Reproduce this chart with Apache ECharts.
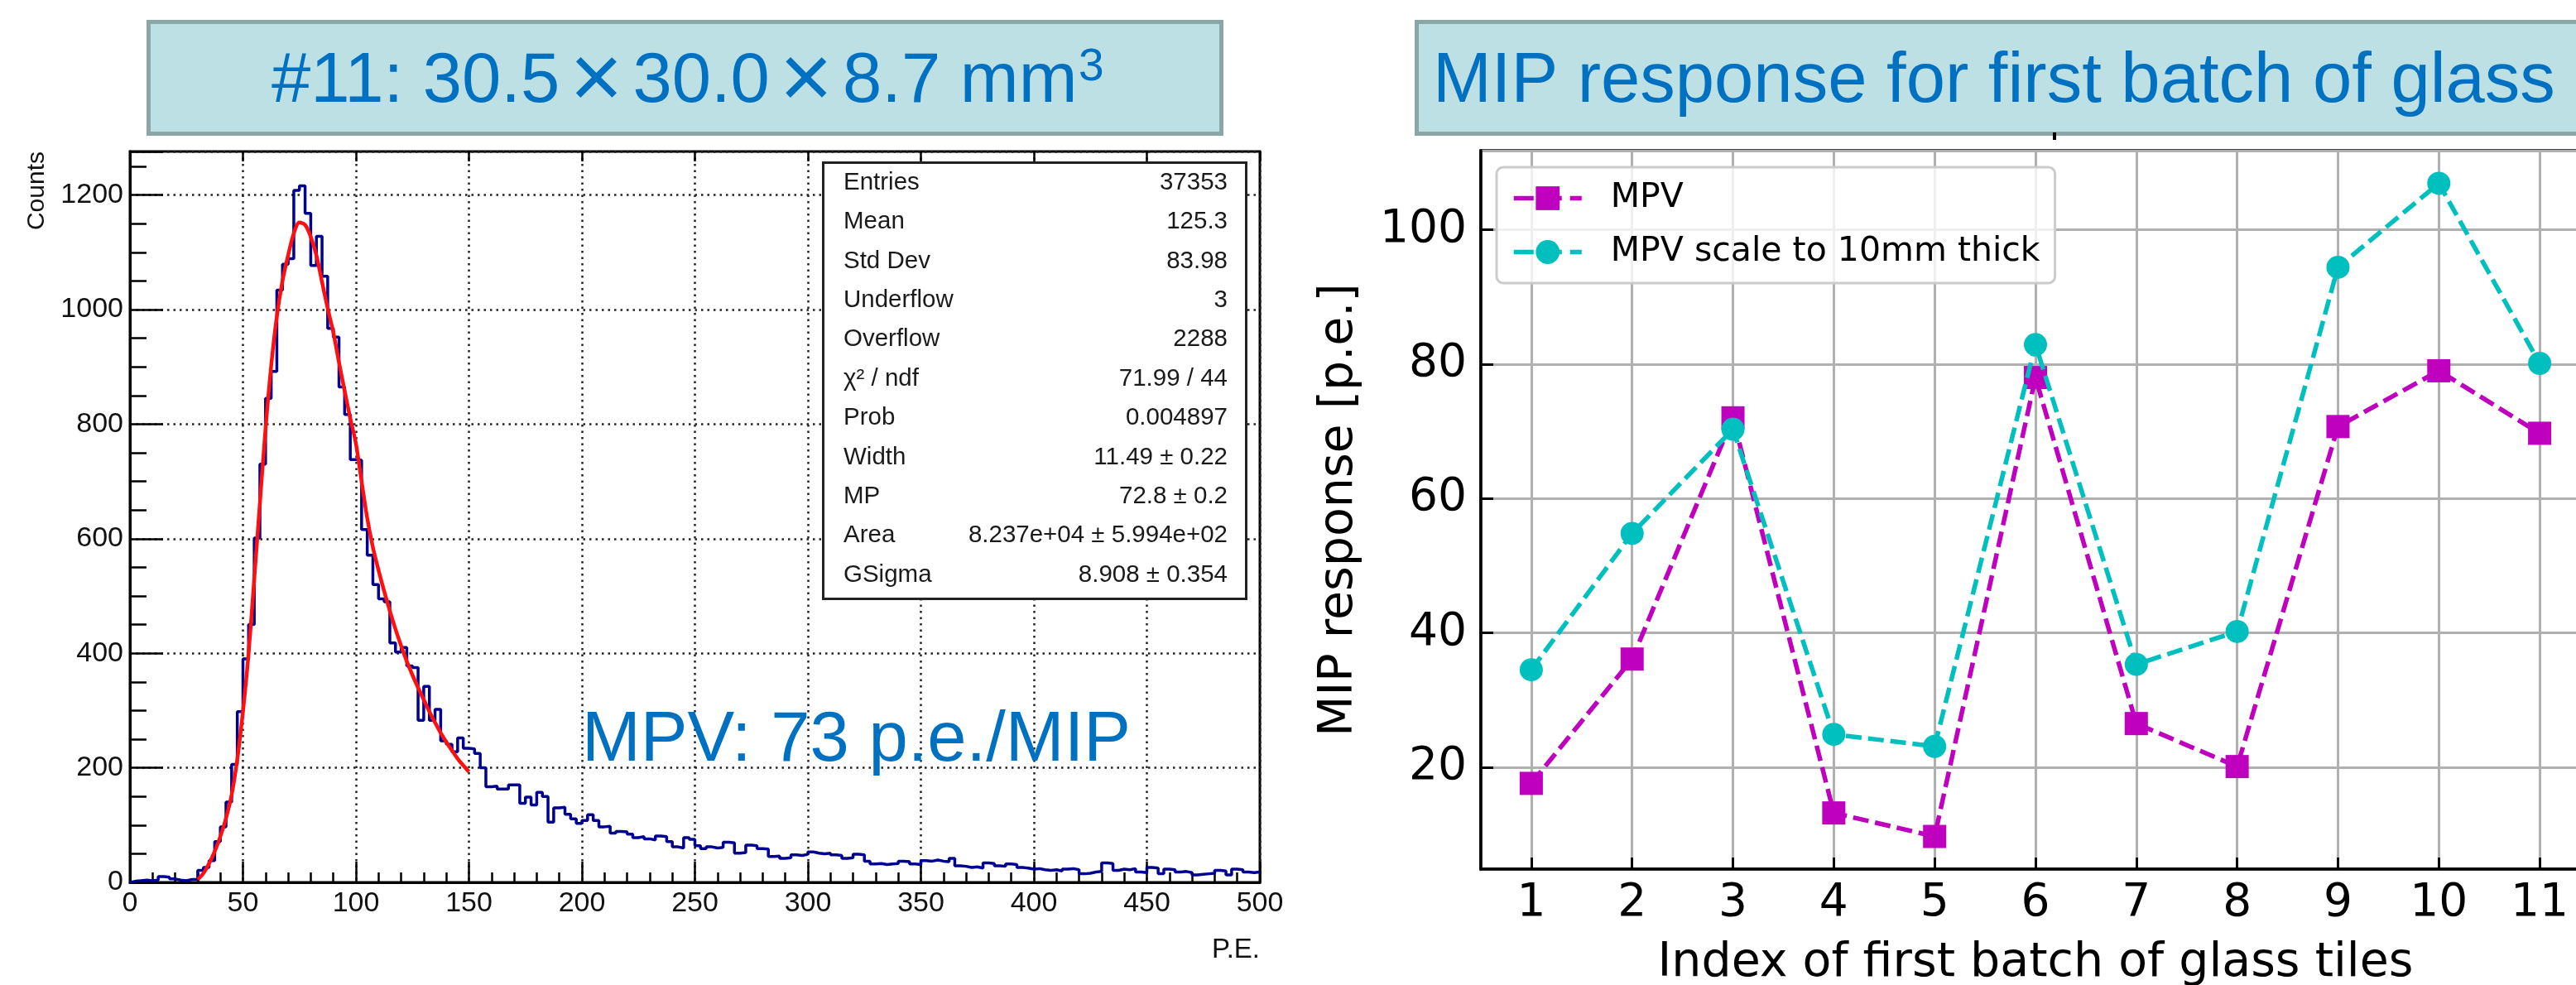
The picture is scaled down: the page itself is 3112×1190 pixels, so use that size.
<!DOCTYPE html>
<html>
<head>
<meta charset="utf-8">
<script src="https://cdn.jsdelivr.net/npm/echarts@6/dist/echarts.min.js"></script>
<style>
  html, body { margin: 0; padding: 0; background: #fff; }
  #chart { width: 3112px; height: 1190px; }
</style>
</head>
<body>
<div id="chart"></div>
<script>
// left: P.E. spectrum of tile #11, bins of 2.5 p.e. from 0 to 500
const binWidth = 2.5
const counts = [
  2, 3, 4, 3, 4, 10, 9, 6, 4, 3,
  5, 5, 21, 26, 38, 71, 97, 140, 206, 298,
  390, 450, 601, 730, 845, 892, 1034, 1079, 1089, 1208,
  1216, 1168, 1077, 1128, 1058, 967, 952, 865, 817, 738,
  737, 616, 571, 520, 495, 490, 418, 402, 410, 378,
  375, 283, 342, 283, 302, 247, 241, 228, 252, 234,
  233, 225, 200, 167, 168, 163, 163, 170, 170, 138,
  149, 135, 157, 150, 105, 130, 131, 119, 111, 103,
  108, 118, 108, 97, 98, 86, 89, 88, 84, 78,
  80, 76, 74, 81, 80, 71, 62, 60, 78, 75,
  64, 59, 62, 60, 61, 70, 69, 51, 52, 65,
  64, 59, 58, 45, 46, 42, 43, 48, 47, 49,
  53, 51, 50, 51, 48, 47, 42, 43, 49, 48,
  37, 32, 33, 31, 32, 33, 37, 36, 32, 31,
  38, 37, 39, 37, 36, 42, 29, 28, 26, 27,
  25, 34, 33, 29, 28, 32, 31, 26, 25, 23,
  24, 22, 21, 22, 20, 23, 24, 22, 15, 16,
  18, 19, 34, 33, 21, 23, 22, 24, 18, 17,
  26, 25, 15, 23, 22, 18, 19, 17, 13, 14,
  15, 16, 21, 20, 13, 23, 22, 18, 17, 18
]

// langaus fit curve
const fitX = [30, 32.5, 35, 37.5, 40, 42.5, 45, 47.5, 50, 52.5, 55, 57.5, 60, 62.5, 65, 67.5, 70, 72.5, 75, 77.5,
  80, 82.5, 85, 87.5, 90, 92.5, 95, 97.5, 100, 102.5, 105, 107.5, 110, 112.5, 115, 117.5, 120, 122.5, 125, 127.5,
  130, 132.5, 135, 137.5, 140, 142.5, 145, 147.5, 150]
const fitY = [5, 16, 33, 54, 80, 112, 153, 215, 298, 400, 530, 662, 792, 902, 988, 1050, 1095, 1133, 1152, 1148,
  1127, 1095, 1048, 1002, 960, 908, 858, 810, 766, 700, 636, 585, 545, 508, 474, 442, 413, 386, 362, 340,
  319, 298, 279, 261, 245, 230, 216, 204, 193]

const statNames = ['Entries', 'Mean', 'Std Dev', 'Underflow', 'Overflow', 'χ² / ndf', 'Prob', 'Width', 'MP', 'Area', 'GSigma']
const statValues = ['37353', '125.3', '83.98', '3', '2288', '71.99 / 44', '0.004897', '11.49 ± 0.22', '72.8 ± 0.2',
  '8.237e+04 ± 5.994e+02', '8.908 ± 0.354']

// right: MIP response per tile
const tiles = [1, 2, 3, 4, 5, 6, 7, 8, 9, 10, 11]
const mpv = [17.6, 36.1, 72.0, 13.2, 9.7, 78.0, 26.5, 20.1, 70.7, 79.0, 69.7]
const mpvScaled = [34.5, 54.8, 70.3, 24.9, 23.1, 82.9, 35.3, 40.2, 94.4, 106.9, 80.1]

const blue = '#0070c0'
const rootFont = 'Liberation Sans'
const mplFont = 'DejaVu Sans'

function statsGraphics () {
  const items = [{
    type: 'rect',
    z: 100,
    shape: { x: 994.5, y: 196.5, width: 511, height: 527 },
    style: { fill: '#fff', stroke: '#222', lineWidth: 3 }
  }]
  statNames.forEach((name, i) => {
    const y = 197 + 47.4 * (i + 0.5)
    items.push({
      type: 'text', z: 101, x: 1019, y: y,
      style: { text: name, font: '29.5px "' + rootFont + '"', fill: '#1a1a1a', align: 'left', verticalAlign: 'middle' }
    })
    items.push({
      type: 'text', z: 101, x: 1483, y: y,
      style: { text: statValues[i], font: '29.5px "' + rootFont + '"', fill: '#1a1a1a', align: 'right', verticalAlign: 'middle' }
    })
  })
  return items
}

function getOptions () {
  const histData = [[0, 0]]
  counts.forEach((c, i) => histData.push([i * binWidth, c]))
  histData.push([500, counts[counts.length - 1]])
  const fitData = fitX.map((x, i) => [x, fitY[i]])

  const rootLabel = { fontFamily: rootFont, fontSize: 34, color: '#111', formatter: (v) => String(v) }
  const mplLabel = { fontFamily: mplFont, fontSize: 55, color: '#000' }
  const dotted = { color: '#222', width: 2.5, type: [2.5, 5] }
  const black = (w) => ({ color: '#000', width: w })

  return {
    animation: false,
    backgroundColor: '#fff',
    grid: [
      { left: 157, top: 183, width: 1365, height: 883, show: true, borderColor: '#000', borderWidth: 3, outerBoundsMode: 'none' },
      { left: 1789, top: 182, width: 1340, height: 868, show: true, borderColor: '#000', borderWidth: 3.5, outerBoundsMode: 'none' }
    ],
    legend: {
      orient: 'vertical',
      left: 1808,
      top: 202,
      itemWidth: 82,
      itemHeight: 36,
      itemGap: 24,
      padding: [17, 18, 17, 18],
      backgroundColor: 'rgba(255,255,255,0.8)',
      borderColor: '#cccccc',
      borderWidth: 3,
      borderRadius: 8,
      lineStyle: { type: [24, 10], width: 5.5 },
      textStyle: { fontFamily: mplFont, fontSize: 41, color: '#000', padding: [0, 0, 0, 30] },
      data: ['MPV', 'MPV scale to 10mm thick']
    },
    xAxis: [
      {
        gridIndex: 0, type: 'value', position: 'bottom', min: 0, max: 500, interval: 50,
        axisLine: { lineStyle: black(3) },
        axisTick: { inside: true, length: 25, lineStyle: black(2.5) },
        minorTick: { show: true, splitNumber: 5, length: 12, lineStyle: black(2.5) },
        splitLine: { show: true, lineStyle: dotted },
        axisLabel: Object.assign({ margin: 9 }, rootLabel)
      },
      {
        gridIndex: 0, type: 'value', position: 'top', min: 0, max: 500, interval: 50,
        axisLine: { show: false },
        axisTick: { inside: true, length: 12, lineStyle: black(2.5) },
        axisLabel: { show: false },
        splitLine: { show: false }
      },
      {
        gridIndex: 1, type: 'value', min: 0.5, max: 11.5, splitNumber: 11,
        axisLine: { lineStyle: black(3.5) },
        axisTick: { inside: true, length: 14, lineStyle: black(3) },
        splitLine: { show: true, lineStyle: { color: '#b0b0b0', width: 3 } },
        axisLabel: Object.assign({ margin: 14, showMinLabel: false, showMaxLabel: false }, mplLabel),
        name: 'Index of first batch of glass tiles',
        nameLocation: 'middle',
        nameGap: 86,
        nameTextStyle: { fontFamily: mplFont, fontSize: 57, color: '#000' }
      }
    ],
    yAxis: [
      {
        gridIndex: 0, type: 'value', min: 0, max: 1276, interval: 200,
        axisLine: { lineStyle: black(3) },
        axisTick: { inside: true, length: 40, lineStyle: black(2.5) },
        minorTick: { show: true, splitNumber: 4, length: 20, lineStyle: black(2.5) },
        splitLine: { show: true, lineStyle: dotted },
        axisLabel: Object.assign({ margin: 8, showMaxLabel: false }, rootLabel)
      },
      {
        gridIndex: 1, type: 'value', min: 4.84, max: 111.76, splitNumber: 5,
        axisLine: { lineStyle: black(3.5) },
        axisTick: { inside: true, length: 15, lineStyle: black(3) },
        splitLine: { show: true, lineStyle: { color: '#b0b0b0', width: 3 } },
        axisLabel: Object.assign({ margin: 17, showMinLabel: false, showMaxLabel: false }, mplLabel),
        name: 'MIP response [p.e.]',
        nameLocation: 'middle',
        nameRotate: 90,
        nameGap: 142,
        nameTextStyle: { fontFamily: mplFont, fontSize: 57, color: '#000' }
      }
    ],
    series: [
      {
        type: 'line', xAxisIndex: 0, yAxisIndex: 0,
        step: 'end',
        symbol: 'none',
        data: histData,
        lineStyle: { color: '#000090', width: 3.5 },
        z: 2
      },
      {
        type: 'line', xAxisIndex: 0, yAxisIndex: 0,
        smooth: 0.3,
        symbol: 'none',
        data: fitData,
        lineStyle: { color: '#ff1010', width: 4.5 },
        z: 3
      },
      {
        name: 'MPV',
        type: 'line', xAxisIndex: 2, yAxisIndex: 1,
        symbol: 'rect',
        symbolSize: 28,
        data: tiles.map((t, i) => [t, mpv[i]]),
        itemStyle: { color: '#bf00bf' },
        lineStyle: { color: '#bf00bf', width: 5.5, type: [19, 8] },
        z: 3
      },
      {
        name: 'MPV scale to 10mm thick',
        type: 'line', xAxisIndex: 2, yAxisIndex: 1,
        symbol: 'circle',
        symbolSize: 28,
        data: tiles.map((t, i) => [t, mpvScaled[i]]),
        itemStyle: { color: '#00bfbf' },
        lineStyle: { color: '#00bfbf', width: 5.5, type: [19, 8] },
        z: 4
      }
    ],
    graphic: [
      // title boxes
      {
        type: 'rect', z: 100,
        shape: { x: 179.5, y: 26.5, width: 1296, height: 135 },
        style: { fill: '#bde0e4', stroke: '#8ba6a6', lineWidth: 5 }
      },
      {
        type: 'text', z: 101, x: 328, y: 49.5,
        style: {
          text: '{a|#11: 30.5}{x|×}{a|30.0}{x|×}{a|8.7 mm}',
          verticalAlign: 'top',
          rich: {
            a: { fontFamily: rootFont, fontSize: 85, lineHeight: 100, fill: blue },
            x: { fontFamily: rootFont, fontSize: 110, lineHeight: 100, fill: blue, padding: [0, 12, 0, 12] }
          }
        }
      },
      {
        type: 'text', z: 101, x: 1303, y: 54,
        style: { text: '3', font: '55px "' + rootFont + '"', fill: blue, verticalAlign: 'top' }
      },
      {
        type: 'rect', z: 100,
        shape: { x: 1711.5, y: 26.5, width: 1500, height: 135 },
        style: { fill: '#bde0e4', stroke: '#8ba6a6', lineWidth: 5 }
      },
      {
        type: 'text', z: 101, x: 1731, y: 49.5,
        style: {
          text: 'MIP response for first batch of glass',
          font: '85px "' + rootFont + '"', lineHeight: 100, fill: blue, verticalAlign: 'top'
        }
      },
      { type: 'rect', z: 100, shape: { x: 2480, y: 160, width: 4, height: 9 }, style: { fill: '#000' } },
      // left plot texts
      {
        type: 'text', z: 101, x: 703, y: 846,
        style: { text: 'MPV: 73 p.e./MIP', font: '85px "' + rootFont + '"', lineHeight: 100, fill: blue, verticalAlign: 'top' }
      },
      {
        type: 'text', z: 101, x: 45, y: 183, rotation: Math.PI / 2,
        style: { text: 'Counts', font: '30px "' + rootFont + '"', fill: '#111', align: 'right', verticalAlign: 'middle' }
      },
      {
        type: 'text', z: 101, x: 1522, y: 1148,
        style: { text: 'P.E.', font: '33px "' + rootFont + '"', fill: '#111', align: 'right', verticalAlign: 'middle' }
      }
    ].concat(statsGraphics())
  }
}

const chart = echarts.init(document.getElementById('chart'))
chart.setOption(getOptions())
</script>
</body>
</html>
